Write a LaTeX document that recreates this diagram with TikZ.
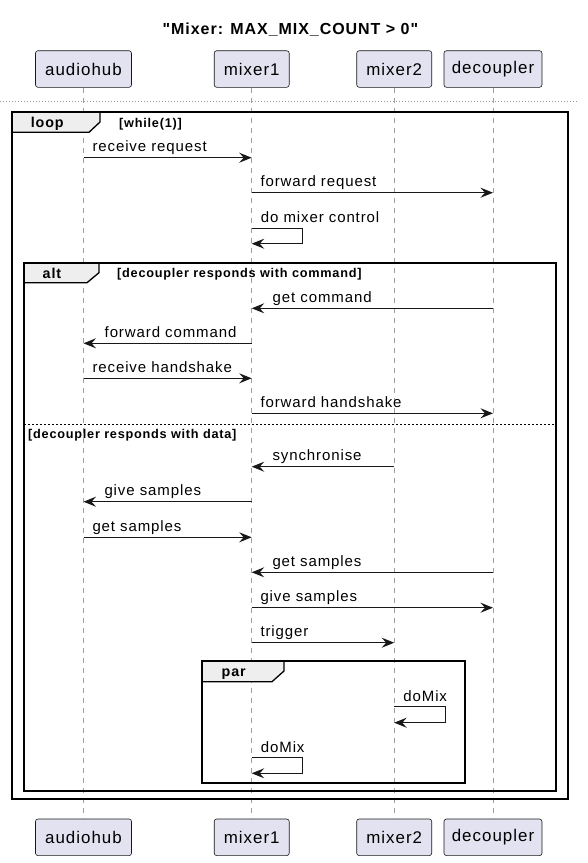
\documentclass[tikz,border=0pt]{standalone}
\usepackage{fontspec}
\setmainfont{Liberation Sans}
\newfontfamily\sqfont[LetterSpace=6]{Liberation Sans}
\usetikzlibrary{arrows.meta}
\definecolor{partFill}{HTML}{E2E2F0}
\definecolor{lineC}{HTML}{181818}
\definecolor{tabFill}{HTML}{EEEEEE}
\newcommand{\fmsg}{\sqfont\fontsize{15}{18}\selectfont}
\newcommand{\fpart}{\sqfont\fontsize{16.9}{20}\selectfont}
\newcommand{\ftitle}{\sqfont\bfseries\fontsize{16}{19}\selectfont}
\newcommand{\fframe}{\sqfont\bfseries\fontsize{14.3}{17}\selectfont}
\newcommand{\fguard}{\sqfont\bfseries\fontsize{12.7}{15}\selectfont}
\tikzset{
  part/.style={draw=lineC, fill=partFill, rounded corners=2.5pt, line width=0.6pt,
    minimum width=#1, minimum height=36.6pt, inner sep=0pt, font=\fpart},
  life/.style={draw=gray!75, dash pattern=on 5pt off 5pt, line width=0.8pt},
  msg/.style={draw=lineC, line width=1.1pt, -{Stealth[length=12.5pt,width=10pt,inset=4.5pt]}},
  lbl/.style={font=\fmsg, anchor=base west, inner sep=0pt},
  sqframe/.style={draw=black, line width=1.8pt},
  sqtab/.style={draw=black, fill=tabFill, line width=1.3pt},
  flabel/.style={font=\fframe, anchor=base west, inner sep=0pt},
  guard/.style={font=\fguard, anchor=base west, inner sep=0pt},
  sep/.style={draw=black, line width=1pt, dash pattern=on 2pt off 2pt},
  hdr/.style={draw=gray!80, line width=0.9pt, dash pattern=on 1.2pt off 1.8pt},
}
\newcommand{\sqarrow}[6]{%
  \coordinate (#1s) at (#2,#4);
  \coordinate (#1e) at (#3,#4);
  \draw[msg] (#1s) -- (#1e);
  \node[lbl] (#1l) at (#5,#4-6) {#6};
}
\newcommand{\sqself}[5]{%
  \coordinate (#1s) at (#2,#3);
  \coordinate (#1e) at (#2,#4);
  \draw[msg] (#1s) -- ++(51,0) |- (#1e);
  \node[lbl] (#1l) at (#2+9,#3-5.6) {#5};
}
\begin{document}
\begin{tikzpicture}[x=1pt, y=-1pt]
\useasboundingbox (0,0) rectangle (588,863);
% lifeline x positions
\def\xa{83.5}
\def\xb{251.7}
\def\xc{394.2}
\def\xd{493}
% title
\node[font=\ftitle, anchor=base, inner sep=0pt] (title) at (290.4,34) {"Mixer: MAX\_MIX\_COUNT > 0"};
% participants
\node[part=96pt] (aT) at (\xa,69) {audiohub};
\node[part=75pt] (bT) at (\xb,69) {mixer1};
\node[part=75pt] (cT) at (\xc,69) {mixer2};
\node[part=98pt] (dT) at (\xd,69) {decoupler};
\node[part=96pt] (aB) at (\xa,837.3) {audiohub};
\node[part=75pt] (bB) at (\xb,837.3) {mixer1};
\node[part=75pt] (cB) at (\xc,837.3) {mixer2};
\node[part=98pt] (dB) at (\xd,837.3) {decoupler};
% lifelines
\draw[life] (aT.south) -- (aB.north);
\draw[life] (bT.south) -- (bB.north);
\draw[life] (cT.south) -- (cB.north);
\draw[life] (dT.south) -- (dB.north);
% header divider
\coordinate (hl) at (0,101);
\coordinate (hr) at (578,101);
\draw[hdr] (hl) -- (hr);
% loop frame
\draw[sqtab] (11.7,111.7) -- (100,111.7) -- (100,122) -- (89,132.3) -- (11.7,132.3) -- cycle;
\draw[sqframe] (11.7,111.7) rectangle (568.3,799.3);
\node[flabel] (looplbl) at (30.7,127.3) {loop};
\node[guard] (loopg) at (119,127.3) {[while(1)]};
% messages
\sqarrow{m1}{\xa}{\xb}{157.7}{92.3}{receive request}
\sqarrow{m2}{\xb}{\xd}{192.7}{260.3}{forward request}
\sqself{m3}{\xb}{228.3}{243.7}{do mixer control}
% alt frame
\draw[sqtab] (24,262.7) -- (99,262.7) -- (99,272.7) -- (87,282.7) -- (24,282.7) -- cycle;
\draw[sqframe] (24,262.7) rectangle (556,790.7);
\node[flabel] (altlbl) at (42.5,278) {alt};
\node[guard] (altg1) at (117,277.7) {[decoupler responds with command]};
\sqarrow{m4}{\xd}{\xb}{308.3}{272.5}{get command}
\sqarrow{m5}{\xb}{\xa}{343.3}{104.5}{forward command}
\sqarrow{m6}{\xa}{\xb}{378.3}{92.3}{receive handshake}
\sqarrow{m7}{\xb}{\xd}{413.3}{260.3}{forward handshake}
\coordinate (sepl) at (24,424.5);
\coordinate (sepr) at (556,424.5);
\draw[sep] (sepl) -- (sepr);
\node[guard] (altg2) at (28,438) {[decoupler responds with data]};
\sqarrow{m8}{\xc}{\xb}{466.7}{272.3}{synchronise}
\sqarrow{m9}{\xb}{\xa}{501.7}{104.3}{give samples}
\sqarrow{m10}{\xa}{\xb}{537.3}{92.3}{get samples}
\sqarrow{m11}{\xd}{\xb}{572.3}{272.3}{get samples}
\sqarrow{m12}{\xb}{\xd}{607.7}{260.3}{give samples}
\sqarrow{m13}{\xb}{\xc}{642.7}{260.3}{trigger}
% par frame
\draw[sqtab] (201.7,660.7) -- (284,660.7) -- (284,671) -- (272,681.7) -- (201.7,681.7) -- cycle;
\draw[sqframe] (201.7,660.7) rectangle (465,782.7);
\node[flabel] (parlbl) at (221.5,676.3) {par};
\sqself{m14}{\xc}{706.7}{722.7}{doMix}
\sqself{m15}{\xb}{757.7}{773.3}{doMix}
\end{tikzpicture}
\end{document}
